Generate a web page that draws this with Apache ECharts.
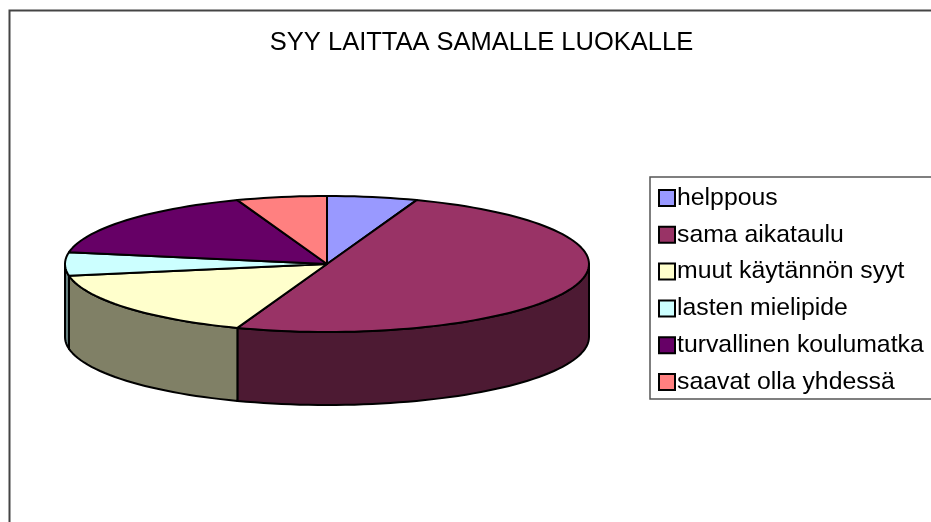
<!DOCTYPE html>
<html><head><meta charset="utf-8">
<style>html,body{margin:0;padding:0;background:#fff}#c{width:931px;height:522px}</style>
<script src="https://cdn.jsdelivr.net/npm/echarts@6/dist/echarts.min.js"></script>
</head><body><div id="c"></div>
<script>
const chartTitle = 'SYY LAITTAA SAMALLE LUOKALLE';
const categories = ['helppous','sama aikataulu','muut käytännön syyt','lasten mielipide','turvallinen koulumatka','saavat olla yhdessä'];
const values = [1,9,3,1,3,1];
const topColors = ['#9999FF','#993366','#FFFFCC','#CCFFFF','#660066','#FF8080'];
const sideColors = ['#4D4D80','#4D1A33','#808066','#668080','#330033','#804040'];

const CX = 327, CY = 264, RX = 262, RY = 68, DEPTH = 73;
const total = values.reduce((a,b)=>a+b,0);
const starts = [];
values.reduce((acc,v,i)=>{starts[i]=acc;return acc+v;},0);
const pt = (deg,dy=0)=>{const r=deg*Math.PI/180;return [CX+RX*Math.sin(r),CY-RY*Math.cos(r)+dy];};

function arc(a0,a1,dy){
  const n=Math.max(2,Math.ceil(Math.abs(a1-a0)/2)),out=[];
  for(let i=0;i<=n;i++) out.push(pt(a0+(a1-a0)*i/n,dy));
  return out;
}
function renderSlice(idx){
  return function(params,api){
    const a0=starts[idx]/total*360, a1=a0+api.value(0)/total*360;
    const children=[];
    const f0=Math.max(a0,90), f1=Math.min(a1,270);
    if(f1>f0){
      children.push({type:'polygon',shape:{points:arc(f0,f1,0).concat(arc(f1,f0,DEPTH))},
        style:{fill:sideColors[idx],stroke:'#000',lineWidth:2,lineJoin:'round'}});
    }
    children.push({type:'polygon',shape:{points:[[CX,CY]].concat(arc(a0,a1,0))},
      style:{fill:topColors[idx],stroke:'#000',lineWidth:2,lineJoin:'round'}});
    return {type:'group',children};
  };
}
const chart = echarts.init(document.getElementById('c'),null,{renderer:'canvas'});
chart.setOption({
  animation:false,
  backgroundColor:'#fff',
  title:{text:chartTitle,left:476.5,top:25,textAlign:'center',
    textStyle:{fontFamily:'Liberation Sans',fontSize:25.5,fontWeight:'normal',color:'#000'}},
  legend:{orient:'vertical',left:650,top:177,itemWidth:16,itemHeight:16,itemGap:11.8,
    padding:[8.5,40,4.5,8],selectedMode:false,borderColor:'#555',borderWidth:1.5,backgroundColor:'#fff',
    textStyle:{fontFamily:'Liberation Sans',fontSize:24.8,color:'#000',padding:[0,0,4,-3]},
    data:categories.map((name,i)=>({name,icon:'rect',itemStyle:{color:topColors[i],borderColor:'#000',borderWidth:2}}))},
  graphic:[{type:'rect',z:-1,shape:{x:9.5,y:10.5,width:1000,height:600},style:{fill:'none',stroke:'#444',lineWidth:2}}],
  series:categories.map((name,i)=>({type:'custom',name,coordinateSystem:'none',
    itemStyle:{color:topColors[i]},renderItem:renderSlice(i),data:[[values[i]]]}))
});
</script></body></html>
